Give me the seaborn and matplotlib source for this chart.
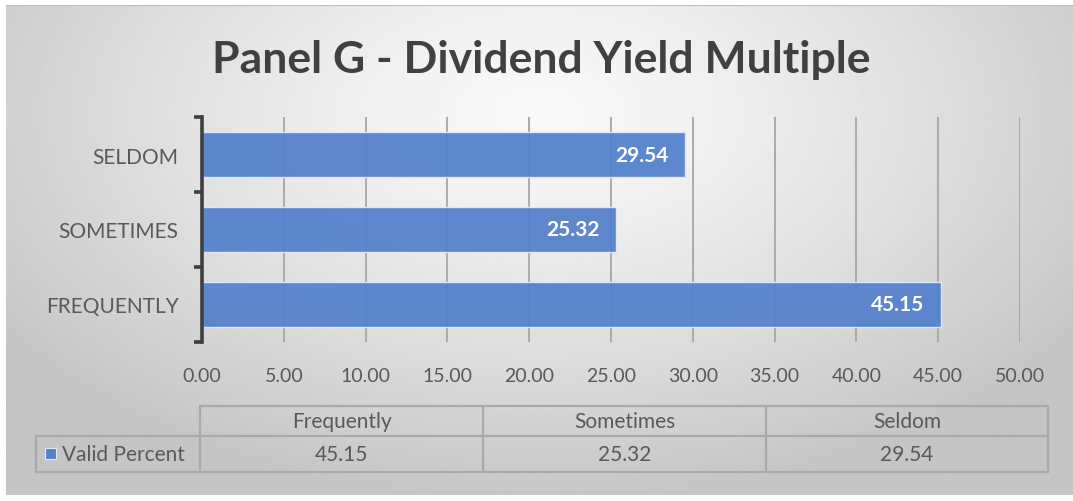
import numpy as np
import matplotlib
matplotlib.use("Agg")
import matplotlib.pyplot as plt
import seaborn as sns

# data
categories = ["SELDOM", "SOMETIMES", "FREQUENTLY"]
valid_percent = [29.54, 25.32, 45.15]
table_labels = ["Frequently", "Sometimes", "Seldom"]
table_values = [45.15, 25.32, 29.54]
series_name = "Valid Percent"
x_ticks = np.arange(0, 55, 5)

sns.set_theme(style="white")
plt.rcParams["font.family"] = ["Lato", "DejaVu Sans"]

W, H = 1073, 502
bar_color = "#5682cc"
text_color = "#595959"
grid_color = "#a6a6a6"

fig = plt.figure(figsize=(W / 100, H / 100), dpi=100)
fig.patch.set_facecolor("white")

# gradient background like the excel chart area
bg = fig.add_axes([6 / W, 6 / H, (W - 6) / W, (H - 12) / H])
yy, xx = np.mgrid[0:250, 0:535]
cx, cy = 267, 55
d = np.sqrt(((xx - cx) / 535.0) ** 2 + ((yy - cy) / 250.0) ** 2 * 0.6)
d = np.clip(d / 0.62, 0, 1)
shade = 0.975 - 0.205 * d ** 1.3
bg.imshow(shade, cmap="gray", vmin=0, vmax=1, aspect="auto", extent=[0, 1, 0, 1])
bg.axis("off")
bg.plot([0, 1], [0.999, 0.999], color="#bdbdbd", lw=1.5, transform=bg.transAxes)

# main bar axes
ax = fig.add_axes([202 / W, 1 - 343 / H, (1020 - 202) / W, (343 - 118) / H])
ax.patch.set_alpha(0)
sns.barplot(x=valid_percent, y=categories, orient="h", color=bar_color,
            width=0.6, alpha=0.95, saturation=1, edgecolor="#e3e9f5", linewidth=1.0, ax=ax, zorder=3)

ax.set_xlim(0, 50)
ax.set_ylim(2.5, -0.5)
ax.set_xticks(x_ticks)
ax.set_xticklabels([f"{v:.2f}" for v in x_ticks])
ax.grid(axis="x", color=grid_color, lw=1.3, zorder=0)
ax.grid(axis="y", visible=False)
ax.set_axisbelow(True)
for s in ["top", "right", "bottom"]:
    ax.spines[s].set_visible(False)
ax.spines["left"].set_color("#3f3f3f")
ax.spines["left"].set_linewidth(2.6)
ax.spines["left"].set_zorder(5)

ax.set_yticks([-0.5, 0.5, 1.5, 2.5], minor=True)
ax.tick_params(axis="y", which="minor", length=6, width=2.6, color="#3f3f3f", direction="out", left=True)
ax.tick_params(axis="y", which="major", length=0, pad=17, labelsize=15, labelcolor=text_color)
ax.tick_params(axis="x", length=0, pad=18, labelsize=14, labelcolor=text_color)
ax.set_xlabel("")
ax.set_ylabel("")

for i, v in enumerate(valid_percent):
    ax.text(v - 1.0, i, f"{v:.2f}", ha="right", va="center", color="white",
            fontsize=15, fontweight="bold", zorder=6)

# title
fig.text(541 / W, 1 - 60 / H, "Panel G - Dividend Yield Multiple", ha="center", va="center",
         fontsize=32, fontweight="bold", color="#404040")

# data table drawn in pixel coordinates
tb = fig.add_axes([0, 0, 1, 1])
tb.set_xlim(0, W)
tb.set_ylim(H, 0)
tb.axis("off")
tb.patch.set_alpha(0)
col_edges = [200, 483, 766, 1048]
y0, y1, y2 = 407, 437, 473
lc = "#a9a9a9"
tlw = 1.6
tb.plot([col_edges[0], col_edges[-1]], [y0, y0], color=lc, lw=tlw)
tb.plot([36, col_edges[-1]], [y1, y1], color=lc, lw=tlw)
tb.plot([36, col_edges[-1]], [y2, y2], color=lc, lw=tlw)
tb.plot([36, 36], [y1, y2], color=lc, lw=tlw)
for xe in col_edges:
    tb.plot([xe, xe], [y0, y2], color=lc, lw=tlw)
for j, (lab, val) in enumerate(zip(table_labels, table_values)):
    xc = (col_edges[j] + col_edges[j + 1]) / 2
    tb.text(xc, (y0 + y1) / 2, lab, ha="center", va="center", fontsize=15, color=text_color)
    tb.text(xc, (y1 + y2) / 2, f"{val:.2f}", ha="center", va="center", fontsize=15, color=text_color)
tb.add_patch(plt.Rectangle((45, 449), 11, 11, facecolor=bar_color, edgecolor="#e3e9f5", lw=0.8))
tb.text(62, (y1 + y2) / 2, series_name, ha="left", va="center", fontsize=15, color=text_color)

fig.savefig("out.png", dpi=100)
